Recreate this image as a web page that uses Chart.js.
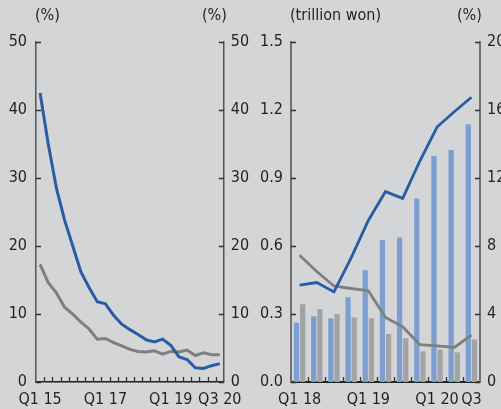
<!DOCTYPE html>
<html><head><meta charset="utf-8">
<script src="https://cdn.jsdelivr.net/npm/chart.js@4.4.1/dist/chart.umd.min.js"></script>
<style>
html,body{margin:0;padding:0;background:#d4d5d7;width:501px;height:409px;overflow:hidden;}
#wrap{position:relative;width:501px;height:409px;font-family:'Liberation Sans Narrow','Arial Narrow','DejaVu Sans Condensed',sans-serif;color:#231f20;font-size:16px;}
.hdr{position:absolute;top:7px;line-height:16px;white-space:nowrap;}
.cv{position:absolute;top:0;}
</style></head><body>
<div id="wrap">
<canvas id="c1" class="cv" style="left:0" width="250" height="409"></canvas>
<canvas id="c2" class="cv" style="left:250px" width="251" height="409"></canvas>
<div class="hdr" style="left:35px">(%)</div>
<div class="hdr" style="left:202px">(%)</div>
<div class="hdr" style="left:290px">(trillion won)</div>
<div class="hdr" style="left:457px">(%)</div>
</div>
<script>
// ---------- Left panel data ----------
const quartersLeft = ['Q1 15','Q2 15','Q3 15','Q4 15','Q1 16','Q2 16','Q3 16','Q4 16',
  'Q1 17','Q2 17','Q3 17','Q4 17','Q1 18','Q2 18','Q3 18','Q4 18',
  'Q1 19','Q2 19','Q3 19','Q4 19','Q1 20','Q2 20','Q3 20'];
const leftTickLabels = ['Q1 15','','','','','','','','Q1 17','','','','','','','','Q1 19','','','','','','Q3 20'];
const leftBlue = [42.5,35.0,28.5,23.8,20.0,16.2,13.9,11.8,11.5,9.8,8.5,7.7,7.0,6.2,5.9,6.3,5.4,3.7,3.3,2.1,2.0,2.4,2.7];
const leftGray = [17.3,14.6,13.1,11.0,10.0,8.8,7.8,6.3,6.4,5.8,5.3,4.8,4.5,4.4,4.6,4.1,4.5,4.4,4.7,3.9,4.3,4.0,4.0];

// ---------- Right panel data ----------
const quartersRight = ['Q1 18','Q2 18','Q3 18','Q4 18','Q1 19','Q2 19','Q3 19','Q4 19','Q1 20','Q2 20','Q3 20'];
const rightTickLabels = ['Q1 18','','','','Q1 19','','','','Q1 20','','Q3'];
const barBlue = [0.262,0.290,0.281,0.374,0.493,0.626,0.638,0.810,0.997,1.023,1.137];
const barGray = [0.343,0.322,0.300,0.285,0.281,0.212,0.193,0.135,0.143,0.131,0.188];
const lineBlueR = [5.7,5.85,5.3,7.3,9.5,11.2,10.8,13.0,15.0,15.9,16.75];
const lineGrayR = [7.45,6.5,5.65,5.5,5.37,3.8,3.25,2.2,2.12,2.03,2.76];

const FONT = {family:"'Liberation Sans Narrow','Arial Narrow','DejaVu Sans Condensed',sans-serif", size:16};
const TXT = '#231f20';
const BLUE = '#2a5ba5', GRAY = '#7f7f7f', BLUEBAR = '#7b9fd1', GRAYBAR = '#a2a3a5';

const inwardTicks = {
  id:'inwardTicks',
  afterDraw(chart){
    const ctx = chart.ctx, a = chart.chartArea, x = chart.scales.x;
    const o = chart.options.plugins.inwardTicks || {};
    ctx.save();
    ctx.strokeStyle = o.color || '#333';
    ctx.lineWidth = 1.3;
    ctx.beginPath();
    const n = x.ticks.length;
    for (let i = 0; i < n - 1; i++) {
      const px = Math.round((x.getPixelForValue(i) + x.getPixelForValue(i + 1)) / 2) + 0.5;
      ctx.moveTo(px, a.bottom); ctx.lineTo(px, a.bottom - 5);
    }
    ['y','y2'].forEach(id => {
      const s = chart.scales[id];
      s.ticks.forEach(t => {
        const py = Math.round(s.getPixelForValue(t.value)) + 0.5;
        if (id === 'y') { ctx.moveTo(a.left, py); ctx.lineTo(a.left + 5, py); }
        else { ctx.moveTo(a.right, py); ctx.lineTo(a.right - 5, py); }
      });
    });
    ctx.stroke();
    ctx.restore();
  }
};

function yScale(pos, min, max, step, width, pad, fmt, bcol, bw){
  return {
    position: pos, min: min, max: max,
    grid: {display:false, drawTicks:false},
    border: {display:true, color:bcol, width:bw},
    ticks: {stepSize: step, padding: pad, color: TXT, font: FONT, callback: fmt},
    afterFit: s => { s.width = width; }
  };
}
function xScale(tickLabels, bcol, bw){
  return {
    type:'category', offset:true,
    grid: {display:false, drawTicks:false, offset:true},
    border: {display:true, color:bcol, width:bw},
    ticks: {autoSkip:false, maxRotation:0, minRotation:0, padding:8, color:TXT, font:FONT,
      callback: (v, i) => tickLabels[i]},
    afterFit: s => { s.height = 27; }
  };
}

new Chart(document.getElementById('c1'), {
  type:'line',
  data:{
    labels: quartersLeft,
    datasets:[
      {data:leftBlue, borderColor:BLUE, borderWidth:3, pointRadius:0, tension:0, yAxisID:'y'},
      {data:leftGray, borderColor:GRAY, borderWidth:3, pointRadius:0, tension:0, yAxisID:'y'}
    ]
  },
  options:{
    responsive:false, animation:false,
    layout:{padding:{top:42, left:0, right:0, bottom:0}},
    plugins:{legend:{display:false}, tooltip:{enabled:false}, inwardTicks:{color:'#333'}},
    scales:{
      x: xScale(leftTickLabels, '#222', 1.5),
      y: yScale('left', 0, 50, 10, 36, 9, v => v, '#555', 1.5),
      y2: yScale('right', 0, 50, 10, 25, 7, v => v, '#555', 1.5)
    }
  },
  plugins:[inwardTicks]
});

new Chart(document.getElementById('c2'), {
  type:'bar',
  data:{
    labels: quartersRight,
    datasets:[
      {type:'line', data:lineBlueR, borderColor:BLUE, borderWidth:2.8, pointRadius:0, tension:0, yAxisID:'y2', order:0},
      {type:'line', data:lineGrayR, borderColor:GRAY, borderWidth:2.8, pointRadius:0, tension:0, yAxisID:'y2', order:1},
      {type:'bar', data:barBlue, backgroundColor:BLUEBAR, yAxisID:'y', order:2, categoryPercentage:0.72, barPercentage:0.85},
      {type:'bar', data:barGray, backgroundColor:GRAYBAR, yAxisID:'y', order:3, categoryPercentage:0.72, barPercentage:0.85}
    ]
  },
  options:{
    responsive:false, animation:false,
    layout:{padding:{top:42, left:0, right:0, bottom:0}},
    plugins:{legend:{display:false}, tooltip:{enabled:false}, inwardTicks:{color:'#333'}},
    scales:{
      x: xScale(rightTickLabels, '#222', 2),
      y: yScale('left', 0, 1.5, 0.3, 41, 8, v => Number(v).toFixed(1), '#707070', 2),
      y2: yScale('right', 0, 20, 4, 21, 7, v => v, '#707070', 2)
    }
  },
  plugins:[inwardTicks]
});
</script>
</body></html>
